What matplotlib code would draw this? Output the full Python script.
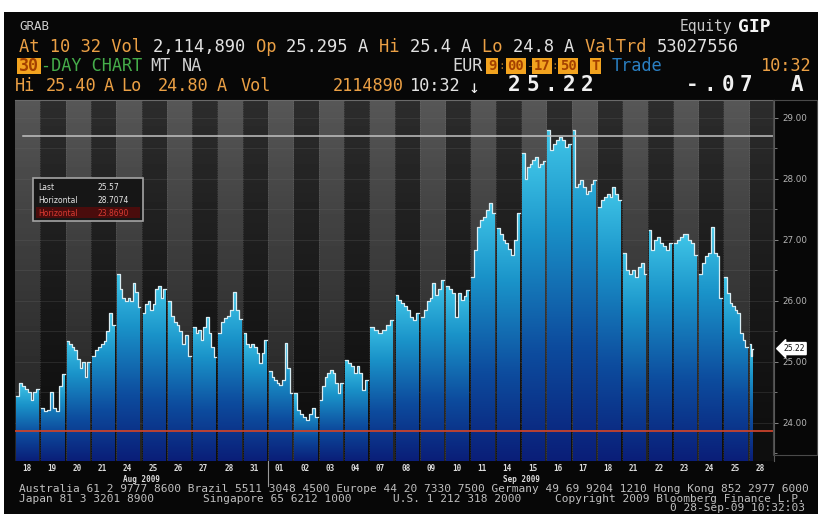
"""Bloomberg-style 30-day intraday chart for GRAB (Aug-Sep 2009)."""

import numpy as np
import matplotlib

matplotlib.use("Agg")
import matplotlib.pyplot as plt
from matplotlib.colors import LinearSegmentedColormap
from matplotlib.patches import Polygon, Rectangle
from matplotlib.transforms import blended_transform_factory

W, H = 821, 519
MONO = "DejaVu Sans Mono"
ORANGE = "#eba045"
WHITE = "#e2e2e2"
GREEN = "#45ad4a"
BLUE = "#2a7fc2"

# trading days on the x axis
DAY_LABELS = ["18", "19", "20", "21", "24", "25", "26", "27", "28", "31",
              "01", "02", "03", "04", "07", "08", "09", "10", "11", "14",
              "15", "16", "17", "18", "21", "22", "23", "24", "25", "28"]
MONTHS = [("Aug 2009", 0, 10), ("Sep 2009", 10, 30)]

# intraday prices, one list per day
DAY_PRICES = [
    [24.45, 24.65, 24.60, 24.55, 24.50, 24.38, 24.50, 24.55],
    [24.25, 24.20, 24.22, 24.50, 24.25, 24.20, 24.60, 24.80],
    [25.35, 25.30, 25.25, 25.20, 25.05, 24.90, 25.00, 24.75, 25.00],
    [25.10, 25.20, 25.25, 25.30, 25.35, 25.50, 25.80, 25.60],
    [26.45, 26.20, 26.05, 26.00, 26.05, 26.00, 26.30, 26.15, 25.90],
    [25.80, 25.95, 26.00, 25.85, 25.95, 26.20, 26.25, 26.05, 26.20],
    [26.00, 25.75, 25.65, 25.60, 25.50, 25.30, 25.45, 25.10],
    [25.58, 25.47, 25.52, 25.36, 25.58, 25.74, 25.47, 25.25, 25.09],
    [25.47, 25.65, 25.72, 25.75, 25.85, 26.15, 25.85, 25.70],
    [25.47, 25.30, 25.25, 25.30, 25.25, 25.14, 24.98, 25.14, 25.36],
    [24.85, 24.76, 24.70, 24.66, 24.62, 24.70, 25.31, 24.90, 24.49],
    [24.49, 24.21, 24.15, 24.10, 24.05, 24.15, 24.25, 24.10],
    [24.38, 24.60, 24.76, 24.82, 24.87, 24.82, 24.65, 24.49, 24.66],
    [25.03, 24.98, 24.93, 24.82, 24.93, 24.82, 24.54, 24.71],
    [25.58, 25.52, 25.47, 25.52, 25.60, 25.69],
    [26.10, 26.02, 25.96, 25.91, 25.85, 25.74, 25.69, 25.80],
    [25.74, 25.85, 26.00, 26.05, 26.30, 26.10, 26.20, 26.35],
    [26.25, 26.20, 26.13, 25.74, 26.13, 26.02, 26.08, 26.18],
    [26.40, 26.84, 27.21, 27.33, 27.38, 27.49, 27.60, 27.44],
    [27.20, 27.10, 27.00, 26.95, 26.85, 26.75, 27.00, 27.45],
    [28.42, 28.00, 28.20, 28.25, 28.31, 28.36, 28.20, 28.25, 28.30],
    [28.80, 28.47, 28.58, 28.64, 28.69, 28.64, 28.52, 28.58],
    [28.80, 27.87, 27.92, 27.98, 27.87, 27.76, 27.81, 27.92, 27.98],
    [27.54, 27.65, 27.70, 27.76, 27.70, 27.87, 27.76, 27.65],
    [26.79, 26.51, 26.45, 26.51, 26.40, 26.56, 26.62, 26.45],
    [27.16, 26.84, 27.00, 27.05, 26.95, 26.90, 26.84, 26.95],
    [26.95, 27.00, 27.05, 27.10, 27.10, 27.00, 26.95, 26.75],
    [26.45, 26.62, 26.73, 26.79, 27.21, 26.79, 26.73, 26.05],
    [26.40, 26.13, 25.97, 25.91, 25.85, 25.80, 25.47, 25.36, 25.25],
    [25.30, 25.10, 25.22],
]
LAST_DAY_FRACTION = 0.17  # 28 Sep only traded until 10:32

HI_LINE = 28.7074
LO_LINE = 23.8690
LAST_TAG = "25.22"
LAST_TAG_VALUE = 25.22
LEGEND_ROWS = [("Last", "25.57"), ("Horizontal", "28.7074"), ("Horizontal", "23.8690")]
Y_TICKS = [24, 25, 26, 27, 28, 29]
Y_MINOR = [23.5, 24.5, 25.5, 26.5, 27.5, 28.5]
Y_MIN, Y_MAX = 23.377, 29.295

fig = plt.figure(figsize=(W / 100, H / 100), dpi=100, facecolor="white")

# ---- terminal background, header and footer (pixel coordinates) ----
bg = fig.add_axes([0, 0, 1, 1], zorder=0)
bg.set_xlim(0, W)
bg.set_ylim(H, 0)
bg.axis("off")
bg.add_patch(Rectangle((4, 12), 814, 502, facecolor="#070707", edgecolor="none"))


def txt(x, y, s, color=WHITE, size=12.2, weight="normal", ha="left", family=MONO):
    bg.text(x, y, s, color=color, fontsize=size, fontweight=weight, ha=ha,
            va="center", family=family)


def boxed(x0, x1, y, s, fc="#f2a31f", tc="#a44000", size=10):
    bg.add_patch(Rectangle((x0, y - 8), x1 - x0, 16, facecolor=fc, edgecolor="none"))
    txt((x0 + x1) / 2, y, s, color=tc, ha="center", weight="bold", size=size)


def spaced(x0, step, y, s, size=15):
    for k, ch in enumerate(s):
        txt(x0 + k * step, y, ch, color="#f0f0f0", size=size, weight="bold", ha="center")


txt(19, 27, "GRAB", color="#cfcfcf", size=9)
txt(680, 27, "Equity", color="#c8c8c8", size=10.5)
txt(738, 27, "GIP", color="#f4f4f4", size=13, weight="bold")

line2 = [("At 10 32 Vol ", ORANGE), ("2,114,890 ", WHITE), ("Op ", ORANGE),
         ("25.295 ", WHITE), ("A ", WHITE), ("Hi ", ORANGE), ("25.4 ", WHITE),
         ("A ", WHITE), ("Lo ", ORANGE), ("24.8 ", WHITE), ("A ", WHITE),
         ("ValTrd ", ORANGE), ("53027556", WHITE)]
step = 0.6021 * 12.3 * 100 / 72
idx = 0
for seg, col in line2:
    txt(19 + idx * step, 47, seg, color=col, size=12.3)
    idx += len(seg)

boxed(17, 41, 66, "30", size=12)
txt(41, 66, "-DAY CHART", color=GREEN)
txt(150, 66, "MT", color="#d0d0d0")
txt(182, 66, "NA", color="#d0d0d0")
txt(452, 66, "EUR", color="#d8d8d8")
boxed(486, 498, 66, "9")
txt(502, 66, ":", color="#9a6a20", ha="center", size=8)
boxed(506, 526, 66, "00")
txt(529, 66, "-", color="#9a6a20", ha="center", size=8)
boxed(532, 552, 66, "17")
txt(555, 66, ":", color="#9a6a20", ha="center", size=8)
boxed(558, 578, 66, "50")
boxed(590, 601, 66, "T")
txt(612, 66, "Trade", color=BLUE)
txt(812, 66, "10:32", color=ORANGE, ha="right")

for x, s, col in [(15, "Hi", ORANGE), (46, "25.40", ORANGE), (104, "A", ORANGE),
                  (121, "Lo", ORANGE), (158, "24.80", ORANGE), (217, "A", ORANGE),
                  (241, "Vol", ORANGE), (333, "2114890", ORANGE), (410, "10:32", WHITE)]:
    txt(x, 86, s, color=col)
txt(474, 88, "\u2193", color="#f0f0f0", size=13, ha="center")
spaced(514, 18.4, 85, LAST_TAG)
spaced(692, 18.0, 85, "-.07")
txt(797, 85, "A", color="#f0f0f0", size=15, weight="bold", ha="center")

FOOT = "#c0c0c0"
txt(19, 489, "Australia 61 2 9777 8600 Brazil 5511 3048 4500 Europe 44 20 7330 7500 "
    "Germany 49 69 9204 1210 Hong Kong 852 2977 6000", color=FOOT, size=8)
txt(19, 499, "Japan 81 3 3201 8900", color=FOOT, size=8)
txt(203, 499, "Singapore 65 6212 1000", color=FOOT, size=8)
txt(393, 499, "U.S. 1 212 318 2000", color=FOOT, size=8)
txt(805, 499, "Copyright 2009 Bloomberg Finance L.P.", color=FOOT, size=8, ha="right")
txt(805, 508, "0 28-Sep-09 10:32:03", color=FOOT, size=8, ha="right")

# ---- price chart ----
ax = fig.add_axes([15 / W, 1 - 461 / H, 759 / W, 361 / H], zorder=1)
ax.set_facecolor("#101010")
n_days = len(DAY_PRICES)

frac = np.linspace(0, 1, 300)[:, None]
light = 0.14 + 0.20 * frac ** 1.3
dark = 0.055 + 0.12 * frac ** 1.3
stripes = np.where(np.arange(n_days)[None, :] % 2 == 0, light, dark)
ax.imshow(stripes, cmap="gray", vmin=0, vmax=1, origin="lower", aspect="auto",
          interpolation="nearest", extent=(0, n_days, Y_MIN, Y_MAX), zorder=0)
for b in range(1, n_days):
    ax.axvline(b, color="#8a8a8a", lw=0.5, ls=(0, (1, 1.5)), alpha=0.45, zorder=0.5)
for v in np.arange(24.0, 29.5, 0.5):
    ax.axhline(v, color="#6a6a6a", lw=0.5, alpha=0.35, zorder=0.5)

cmap = LinearSegmentedColormap.from_list(
    "bbg", [(0.0, "#0a1e78"), (0.35, "#0d4c9e"), (0.72, "#1a93c9"), (1.0, "#40c6e8")])
GAP = 0.04
grad = np.linspace(0, 1, 256)[:, None]
for i, prices in enumerate(DAY_PRICES):
    span = LAST_DAY_FRACTION if i == n_days - 1 else 1.0 - GAP
    x0 = i + GAP
    xs = np.linspace(x0, i + span, len(prices) + 1)
    verts = [(xs[0], Y_MIN)]
    for k, p in enumerate(prices):
        verts += [(xs[k], p), (xs[k + 1], p)]
    verts.append((xs[-1], Y_MIN))
    patch = Polygon(verts, closed=True, facecolor="none", edgecolor="none")
    ax.add_patch(patch)
    im = ax.imshow(grad, cmap=cmap, origin="lower", aspect="auto", interpolation="bilinear",
                   extent=(xs[0], xs[-1], Y_MIN, max(prices)), zorder=2)
    im.set_clip_path(patch)
    ax.plot(xs, list(prices) + [prices[-1]], drawstyle="steps-post",
            color="#d9ecf2", lw=0.9, zorder=3)

ax.plot([0.32, n_days], [HI_LINE, HI_LINE], color="#c2c2c2", lw=1.1, zorder=4)
ax.axhline(LO_LINE, color="#c8432c", lw=1.3, zorder=4)

ax.set_xlim(0, n_days)
ax.set_ylim(Y_MIN, Y_MAX)
ax.set_xticks(np.arange(n_days) + 0.45)
ax.set_xticklabels(DAY_LABELS, family=MONO, fontsize=5.5, fontweight="bold", color="#dddddd")
ax.tick_params(axis="x", length=0, pad=2.5)
ax.yaxis.tick_right()
ax.set_yticks(Y_TICKS)
ax.set_yticklabels([f"{v:.2f}" for v in Y_TICKS], fontsize=6.3, color="#b4b4b4")
ax.set_yticks(Y_MINOR, minor=True)
ax.tick_params(axis="y", which="major", length=3, width=0.6, color="#9a9a9a", pad=3)
ax.tick_params(axis="y", which="minor", length=2, width=0.6, color="#8a8a8a")
for side in ("left", "bottom"):
    ax.spines[side].set_visible(False)
ax.spines["top"].set_color("#6a6a6a")
ax.spines["right"].set_color("#5a5a5a")
ax.spines["top"].set_linewidth(0.8)
ax.spines["right"].set_linewidth(0.8)

trans = blended_transform_factory(ax.transData, ax.transAxes)
for name, a, b in MONTHS:
    ax.text((a + b) / 2, -0.05, name, transform=trans, ha="center", va="center",
            family=MONO, fontsize=5.5, fontweight="bold", color="#dddddd")
ax.plot([10, 10], [0, -0.068], transform=trans, color="#9a9a9a", lw=0.8, clip_on=False)

tag_trans = blended_transform_factory(ax.transAxes, ax.transData)
ax.text(1.012, LAST_TAG_VALUE, LAST_TAG, transform=tag_trans, ha="left", va="center",
        fontsize=5.5, color="#101010", clip_on=False, zorder=6,
        bbox=dict(boxstyle="larrow,pad=0.2", facecolor="white", edgecolor="white"))

# ---- legend box ----
ov = fig.add_axes([0, 0, 1, 1], zorder=3)
ov.set_xlim(0, W)
ov.set_ylim(H, 0)
ov.axis("off")
ov.patch.set_alpha(0)
ov.add_patch(Rectangle((33, 178), 110, 43, facecolor="#161616", edgecolor="#a4a4a4", lw=1.2))
ov.add_patch(Rectangle((36, 207), 104, 11, facecolor="#4a0c0c", edgecolor="none"))
ov.add_patch(Rectangle((773, 100), 44, 355, fill=False, edgecolor="#4a4a4a", lw=0.8))
for k, (lab, val) in enumerate(LEGEND_ROWS):
    col = "#d83a32" if k == 2 else "#e6e6e6"
    yy = 188 + 12.5 * k
    ov.text(38, yy, lab, color=col, fontsize=5.5, va="center")
    ov.text(97, yy, val, color=col, fontsize=5.5, va="center")

fig.savefig("out.png", dpi=100, facecolor=fig.get_facecolor())
